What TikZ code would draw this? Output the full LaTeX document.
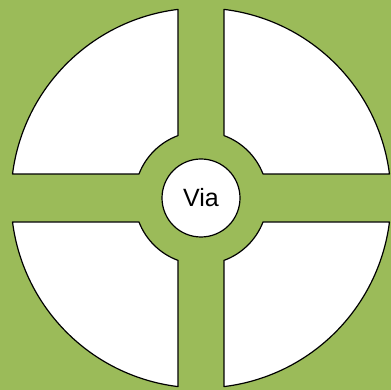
\documentclass[tikz,border=0pt]{standalone}
\usepackage{fontspec}
\setmainfont{Liberation Sans}
\usepackage{tikz}
\definecolor{viagreen}{HTML}{9BBB59}
\def\bigR{190}\def\ringR{66.5}\def\halfw{23}\def\halfh{24}
\begin{document}
\begin{tikzpicture}[x=1pt,y=1pt,
  pad/.style={draw=black,line width=1.2pt,fill=white,line join=round},
  vian/.style={circle,draw=black,line width=1.2pt,fill=white,inner sep=0pt,minimum size=78pt,font=\fontsize{25}{30}\selectfont}]
% background
\fill[viagreen] (0,0) rectangle (391,390);
\coordinate (c) at (201,192);
% four pads
\foreach \sx/\sy in {1/1,-1/1,-1/-1,1/-1}{
  \begin{scope}[shift={(c)},xscale=\sx,yscale=\sy]
    \draw[pad] ({acos(\halfw/\bigR)}:\bigR) -- ({acos(\halfw/\ringR)}:\ringR)
      arc[start angle={acos(\halfw/\ringR)},end angle={asin(\halfh/\ringR)},radius=\ringR]
      -- ({asin(\halfh/\bigR)}:\bigR)
      arc[start angle={asin(\halfh/\bigR)},end angle={acos(\halfw/\bigR)},radius=\bigR] -- cycle;
  \end{scope}
}
\node[vian] (via) at (c) {Via};
\end{tikzpicture}
\end{document}
